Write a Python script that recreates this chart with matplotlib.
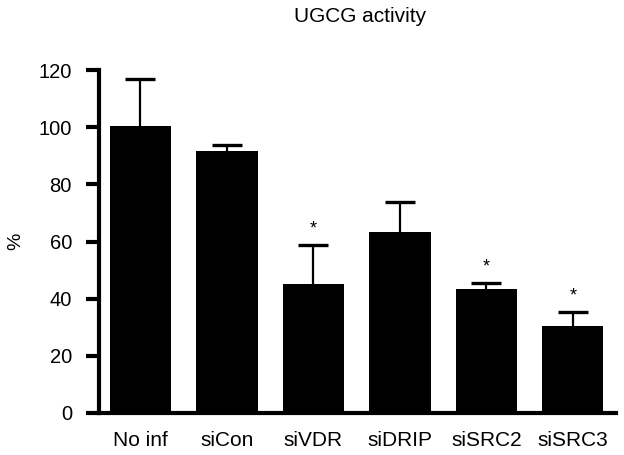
import matplotlib.pyplot as plt
import numpy as np

plt.rcParams["font.family"] = ["Liberation Sans", "DejaVu Sans"]

categories = ["No inf", "siCon", "siVDR", "siDRIP", "siSRC2", "siSRC3"]
means = [100.3, 91.5, 45.2, 63.3, 43.4, 30.4]
errors = [16.7, 2.2, 13.6, 10.6, 2.1, 4.8]
significant = [False, False, True, False, True, True]

fig = plt.figure(figsize=(6.24, 4.55), dpi=100)
ax = fig.add_axes([99 / 624, 42 / 455, 517 / 624, 343 / 455])

x = np.arange(len(categories))
# symmetric error bars drawn under the bars so only the upper half shows
ax.errorbar(x, means, yerr=errors, fmt="none", ecolor="black",
            elinewidth=1.6, capsize=11, capthick=2.4, zorder=1)
ax.bar(x, means, width=0.71, color="black", zorder=2)

for xi, m, e, s in zip(x, means, errors, significant):
    if s:
        ax.text(xi, m + e + 2.6, "*", ha="center", va="bottom", fontsize=13)

ax.set_xlim(-0.48, 5.5)
ax.set_ylim(0, 120)
ax.set_yticks(np.arange(0, 121, 20))
ax.set_xticks(x)
ax.set_xticklabels(categories)
ax.tick_params(axis="y", length=9.5, width=3, labelsize=14.5, pad=10)
ax.tick_params(axis="x", length=0, labelsize=15, pad=13)
ax.set_ylabel("%", fontsize=14, labelpad=10)
ax.spines["top"].set_visible(False)
ax.spines["right"].set_visible(False)
ax.spines["left"].set_linewidth(3)
ax.spines["bottom"].set_linewidth(3)

fig.text(360 / 624, 1 - 17 / 455, "UGCG activity", ha="center", va="center", fontsize=15)

fig.savefig("out.png", dpi=100)
